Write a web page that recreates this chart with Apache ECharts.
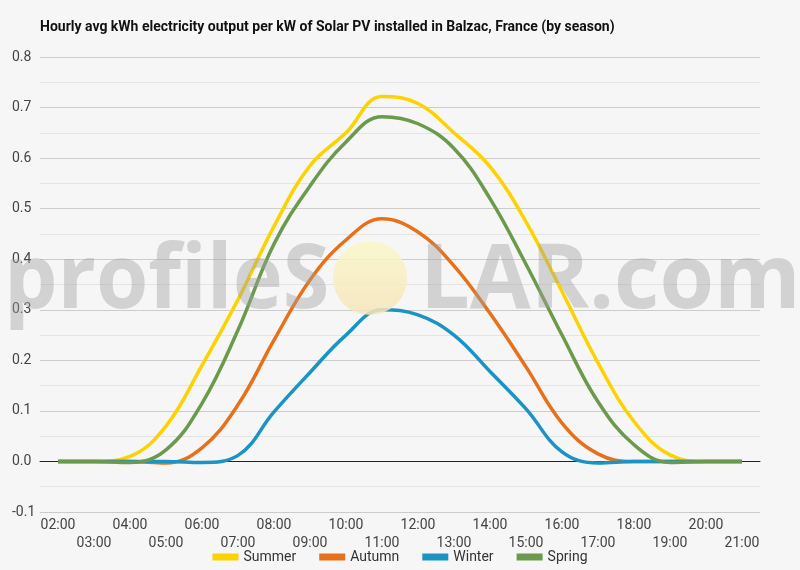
<!DOCTYPE html>
<html>
<head>
<meta charset="utf-8">
<script src="https://cdn.jsdelivr.net/npm/echarts@6/dist/echarts.min.js"></script>
<style>
html, body { margin: 0; padding: 0; background: #f6f6f6; }
#main { width: 800px; height: 570px; }
</style>
</head>
<body>
<div id="main"></div>
<script>
var hours = ['02:00', '03:00', '04:00', '05:00', '06:00', '07:00', '08:00', '09:00', '10:00', '11:00',
	'12:00', '13:00', '14:00', '15:00', '16:00', '17:00', '18:00', '19:00', '20:00', '21:00'];

// values
var summer = [0, 0, 0.01, 0.07, 0.19, 0.32, 0.465, 0.585, 0.65, 0.722, 0.708, 0.65, 0.583, 0.474, 0.336, 0.195, 0.079, 0.013, 0, 0];
var autumn = [0, 0, 0, -0.003, 0.027, 0.112, 0.24, 0.359, 0.438, 0.48, 0.454, 0.387, 0.293, 0.187, 0.076, 0.015, 0, 0, 0, 0];
var winter = [0, 0, 0, 0, -0.002, 0.012, 0.098, 0.176, 0.25, 0.3, 0.29, 0.25, 0.178, 0.104, 0.019, -0.003, 0, 0, 0, 0];
var spring = [0, 0, -0.002, 0.023, 0.115, 0.26, 0.43, 0.545, 0.632, 0.682, 0.668, 0.619, 0.52, 0.39, 0.25, 0.118, 0.033, -0.002, 0, 0];

var seriesNames = ['Summer', 'Autumn', 'Winter', 'Spring'];
var seriesData = [summer, autumn, winter, spring];
var color = ['#fcd200', '#e7711b', '#1b93c3', '#6b9a4c'];

var chart = echarts.init(document.getElementById('main'));

function buildSeries() {
	var list = [];
	for (var i = 0; i < seriesNames.length; i++) {
		list.push({
			name: seriesNames[i],
			type: 'line',
			smooth: 0.4,
			showSymbol: false,
			symbol: 'none',
			lineStyle: { width: 3.5, color: color[i] },
			itemStyle: { color: color[i] },
			data: seriesData[i]
		});
	}
	return list;
}

var watermarkFont = 'bold 90px "Open Sans"';

var option = {
	backgroundColor: '#f6f6f6',
	textStyle: { fontFamily: 'Roboto' },
	title: {
		text: 'Hourly avg kWh electricity output per kW of Solar PV installed in Balzac, France (by season)',
		left: 40,
		top: 20,
		padding: 0,
		textStyle: { fontFamily: 'Roboto', fontSize: 14, fontWeight: 'bold', color: '#111' }
	},
	legend: {
		top: 550,
		left: 'center',
		itemWidth: 26,
		itemHeight: 7,
		itemGap: 23,
		padding: 0,
		icon: 'rect',
		textStyle: { fontFamily: 'Roboto', fontSize: 14, color: '#333' },
		data: seriesNames
	},
	grid: { left: 40, right: 40, top: 57, bottom: 58, containLabel: false },
	xAxis: {
		type: 'category',
		data: hours,
		boundaryGap: true,
		axisLine: { onZero: true, lineStyle: { color: '#222', width: 1 } },
		axisTick: { show: false },
		axisLabel: {
			interval: 0,
			margin: 4,
			fontSize: 14,
			lineHeight: 18,
			color: '#444',
			formatter: function (value, index) {
				return index % 2 ? '\n' + value : value;
			}
		}
	},
	yAxis: {
		type: 'value',
		min: -0.1,
		max: 0.8,
		interval: 0.1,
		axisLine: { show: false },
		axisTick: { show: false },
		axisLabel: {
			margin: 28,
			align: 'left',
			fontSize: 14,
			color: '#444',
			formatter: function (v) { return v.toFixed(1); }
		},
		splitLine: { lineStyle: { color: '#cccccc', width: 1 } },
		minorTick: { show: false, splitNumber: 2 },
		minorSplitLine: { show: true, lineStyle: { color: '#e4e4e4', width: 1 } }
	},
	graphic: [
		{
			type: 'circle',
			silent: true,
			z: 99,
			shape: { cx: 370, cy: 278, r: 37 },
			style: {
				fill: new echarts.graphic.LinearGradient(0, 0, 0, 1, [
					{ offset: 0, color: 'rgba(250,248,200,0.85)' },
					{ offset: 1, color: 'rgba(246,228,185,0.85)' }
				])
			}
		},
		{
			type: 'text',
			silent: true,
			z: 100,
			x: 4,
			y: 282,
			scaleX: 0.94,
			style: {
				text: 'profileS',
				align: 'left',
				verticalAlign: 'middle',
				font: watermarkFont,
				fill: 'rgba(160,160,160,0.42)'
			}
		},
		{
			type: 'text',
			silent: true,
			z: 100,
			x: 420,
			y: 282,
			scaleX: 0.98,
			style: {
				text: 'LAR.com',
				align: 'left',
				verticalAlign: 'middle',
				font: watermarkFont,
				fill: 'rgba(160,160,160,0.42)'
			}
		}
	],
	series: buildSeries()
};

chart.setOption(option);
</script>
</body>
</html>
